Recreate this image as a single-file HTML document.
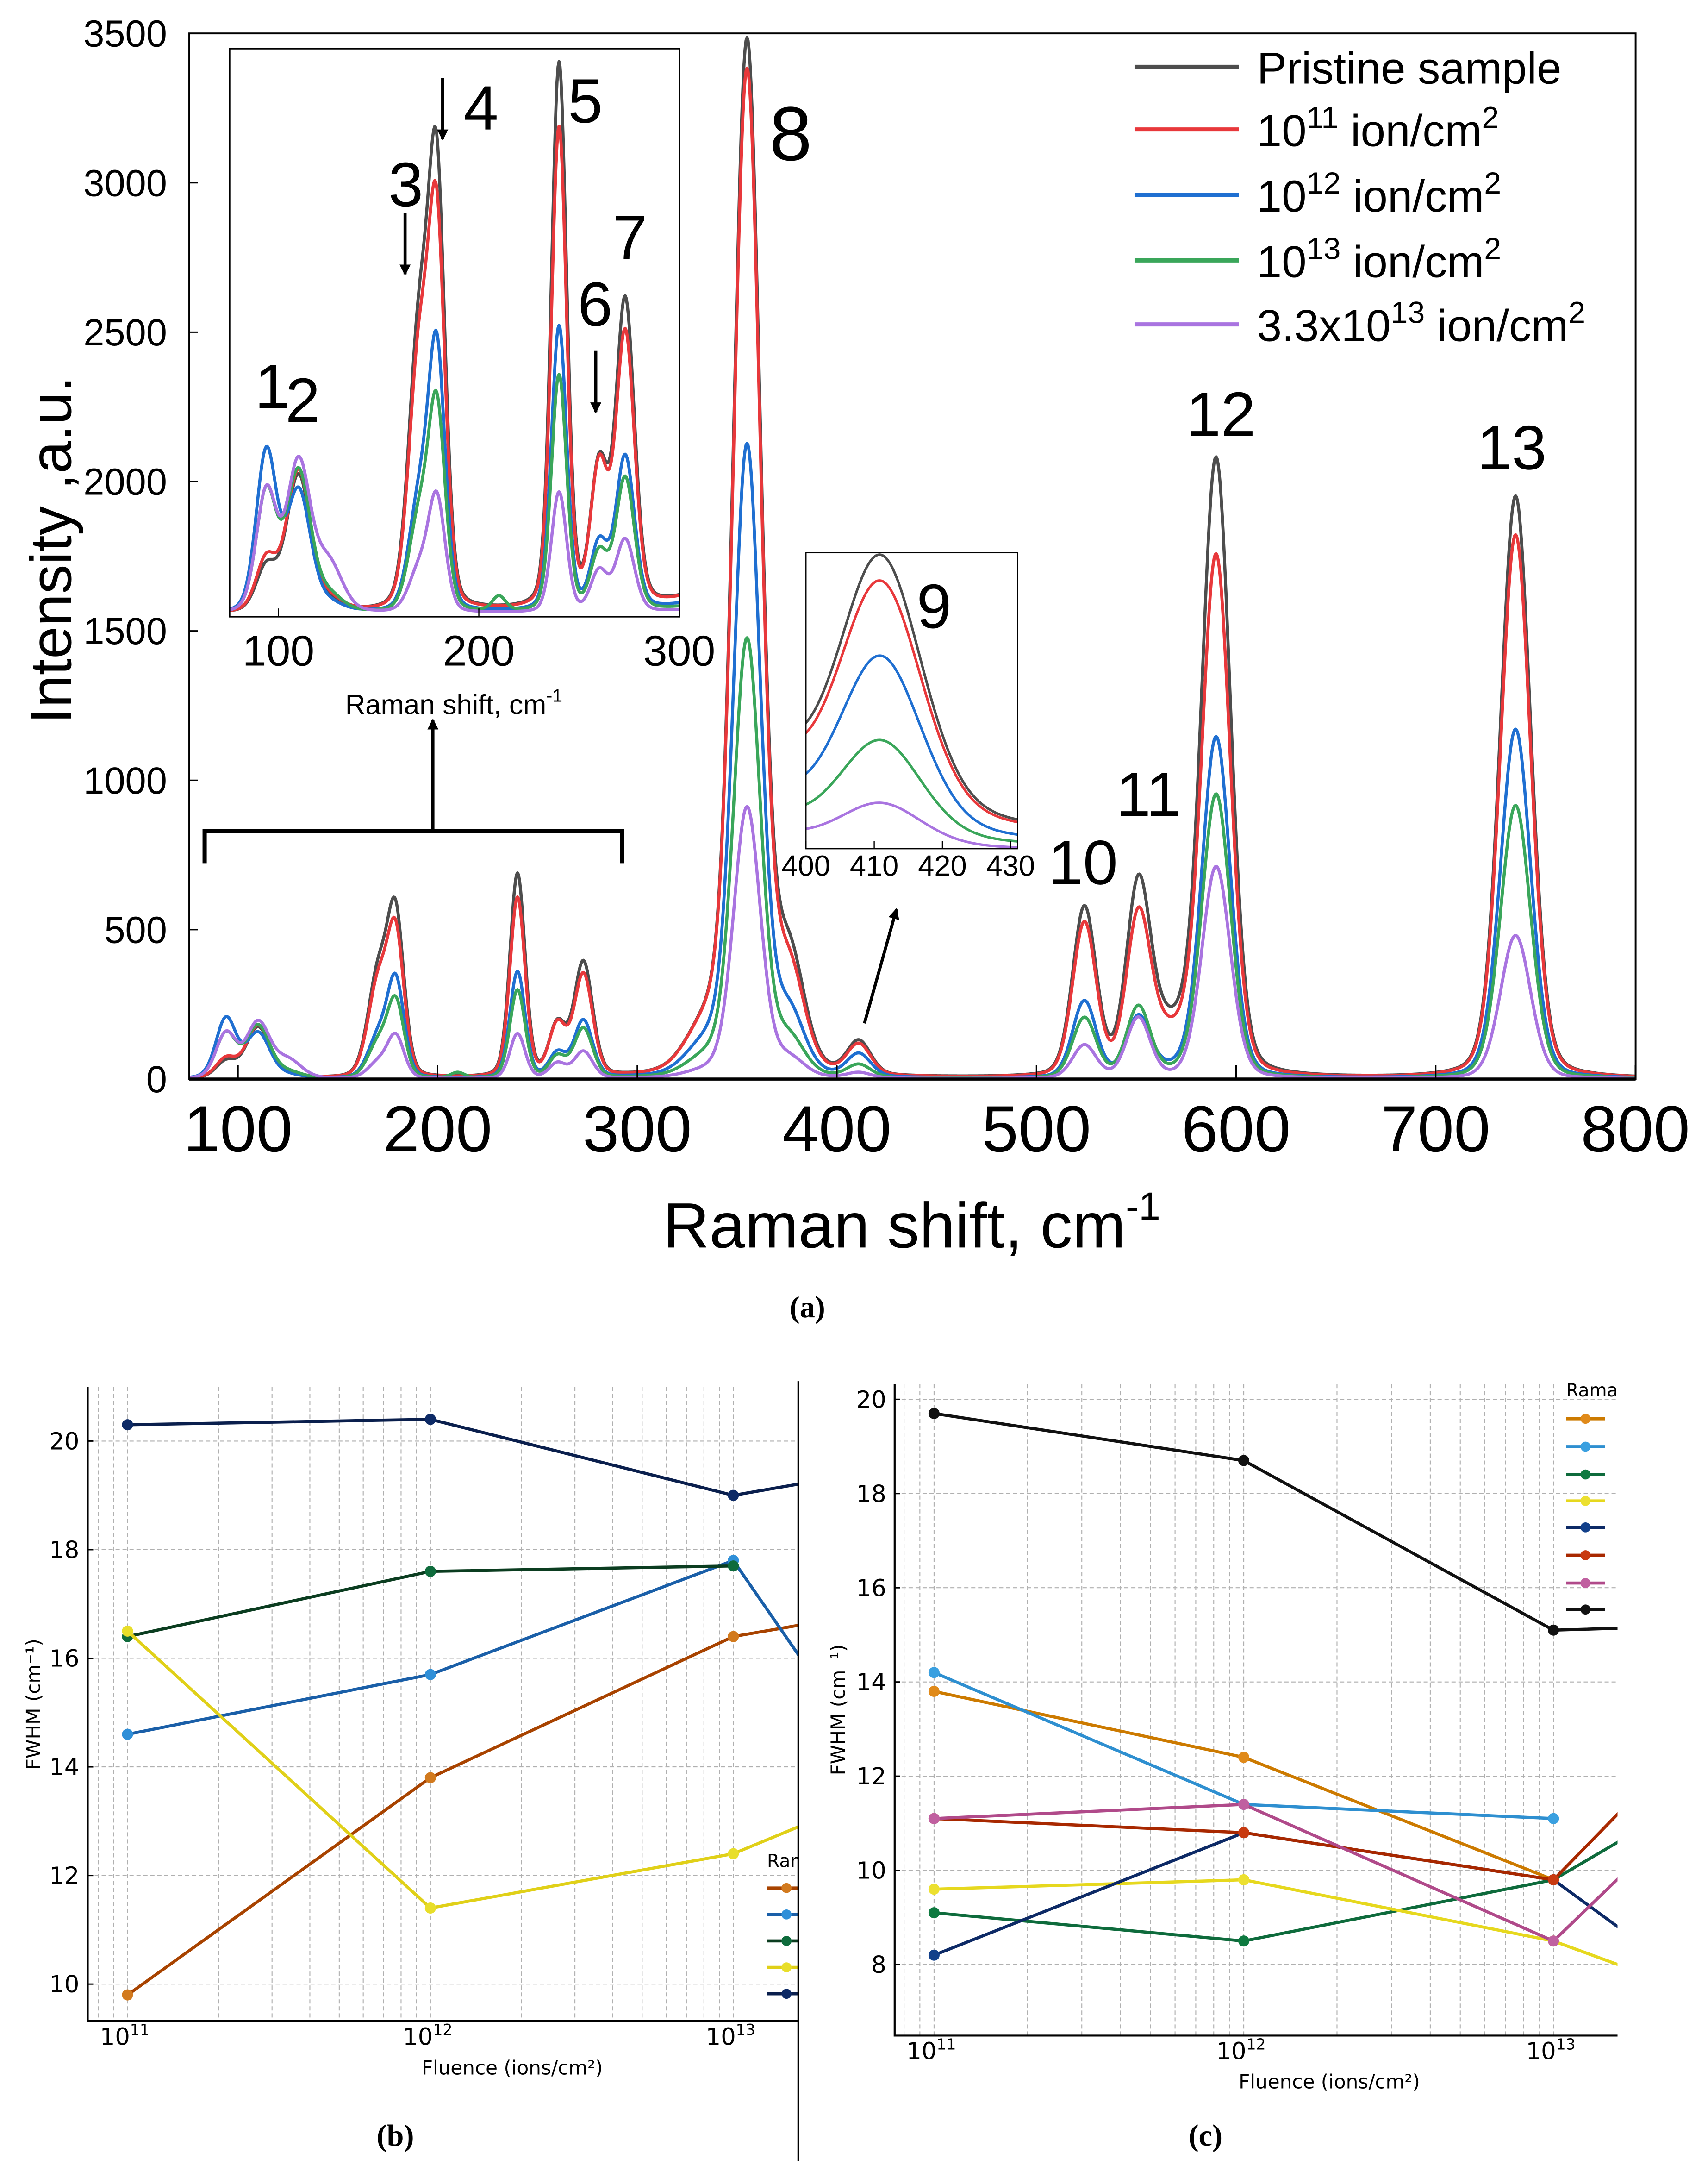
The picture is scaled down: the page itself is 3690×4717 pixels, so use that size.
<!DOCTYPE html>
<html><head><meta charset="utf-8"><title>Raman spectra and FWHM</title>
<style>
html,body{margin:0;padding:0;background:#fff;}
svg{display:block;}
text{font-family:"Liberation Sans",Arial,sans-serif;}
.dj{font-family:"DejaVu Sans","Liberation Sans",sans-serif;}
.sf{font-family:"Liberation Serif",serif;font-weight:bold;}
</style></head>
<body>
<svg id="fig" xmlns="http://www.w3.org/2000/svg" width="3690" height="4717" viewBox="0 0 1227 1568.6" preserveAspectRatio="none">
<rect x="0" y="0" width="1227" height="1568.6" fill="#fff"/>
<defs>
<clipPath id="clipMain"><rect x="136" y="24" width="1039" height="751"/></clipPath>
<clipPath id="clipIn1"><rect x="165" y="35" width="323" height="408"/></clipPath>
<clipPath id="clipIn2"><rect x="579" y="397" width="152" height="212.6"/></clipPath>
<clipPath id="clipB"><rect x="63" y="990" width="510.5" height="461.6"/></clipPath>
<clipPath id="clipC"><rect x="642.7" y="990" width="519.3" height="472"/></clipPath>
<marker id="ah" markerWidth="8" markerHeight="8" refX="7" refY="4" orient="auto" markerUnits="userSpaceOnUse"><path d="M0,0 L8,4 L0,8 z" fill="#000"/></marker>
</defs>
<g id="mainCurves" clip-path="url(#clipMain)"></g>
<rect x="136" y="24" width="1039" height="751" fill="none" stroke="#000" stroke-width="1.3"/>
<line x1="136" y1="775" x2="1175" y2="775" stroke="#000" stroke-width="2.2"/>
<g id="mainTicks"></g>
<text x="40" y="395" transform="rotate(-90 40 395)" text-anchor="middle" dominant-baseline="middle" font-size="42">Intensity ,a.u.</text>
<text x="655" y="896" text-anchor="middle" font-size="46">Raman shift, cm<tspan font-size="28" dy="-20">-1</tspan></text>
<text x="580" y="946" text-anchor="middle" font-size="22" class="sf">(a)</text>

<rect x="165" y="35" width="323" height="408" fill="#fff" stroke="none"/>
<g id="in1Curves" clip-path="url(#clipIn1)"></g>
<rect x="165" y="35" width="323" height="408" fill="none" stroke="#000" stroke-width="1"/>
<g id="in1Ticks"></g>
<text x="326" y="513" text-anchor="middle" font-size="20">Raman shift, cm<tspan font-size="13" dy="-9">-1</tspan></text>

<rect x="579" y="397" width="152" height="212.6" fill="#fff" stroke="none"/>
<g id="in2Curves" clip-path="url(#clipIn2)"></g>
<rect x="579" y="397" width="152" height="212.6" fill="none" stroke="#000" stroke-width="0.8"/>
<g id="in2Ticks"></g>

<g font-size="45">
<text x="183" y="293">1</text>
<text x="205" y="303">2</text>
<text x="279" y="148">3</text>
<text x="333" y="93">4</text>
<text x="408" y="88">5</text>
<text x="415" y="234">6</text>
<text x="440" y="186">7</text>
<text x="568" y="115" text-anchor="middle" font-size="55">8</text>
<text x="671" y="451" text-anchor="middle">9</text>
<text x="778" y="635" text-anchor="middle">10</text>
<text x="825" y="586" text-anchor="middle">11</text>
<text x="877" y="313" text-anchor="middle">12</text>
<text x="1086" y="337" text-anchor="middle">13</text>
</g>
<g stroke="#000" stroke-width="2.2" fill="none">
<line x1="318" y1="56" x2="318" y2="100" marker-end="url(#ah)"/>
<line x1="291" y1="153" x2="291" y2="197" marker-end="url(#ah)"/>
<line x1="428" y1="252" x2="428" y2="296" marker-end="url(#ah)"/>
<polyline points="147,620 147,597 447,597 447,620" stroke-width="3"/>
<line x1="311" y1="597" x2="311" y2="517" marker-end="url(#ah)"/>
<line x1="621" y1="735" x2="644" y2="653" marker-end="url(#ah)"/>
</g>

<g id="legendMain" font-size="32">
<line x1="815" y1="48" x2="890" y2="48" stroke="#4d4d4d" stroke-width="3"/>
<text x="903" y="60">Pristine sample</text>
<line x1="815" y1="93" x2="890" y2="93" stroke="#e8383b" stroke-width="3"/>
<text x="903" y="105">10<tspan font-size="22" dy="-13">11</tspan><tspan dy="13"> ion/cm</tspan><tspan font-size="22" dy="-13">2</tspan></text>
<line x1="815" y1="140" x2="890" y2="140" stroke="#1f6fd1" stroke-width="3"/>
<text x="903" y="152">10<tspan font-size="22" dy="-13">12</tspan><tspan dy="13"> ion/cm</tspan><tspan font-size="22" dy="-13">2</tspan></text>
<line x1="815" y1="187" x2="890" y2="187" stroke="#3aa65a" stroke-width="3"/>
<text x="903" y="199">10<tspan font-size="22" dy="-13">13</tspan><tspan dy="13"> ion/cm</tspan><tspan font-size="22" dy="-13">2</tspan></text>
<line x1="815" y1="233" x2="890" y2="233" stroke="#a974e0" stroke-width="3"/>
<text x="903" y="245">3.3x10<tspan font-size="22" dy="-13">13</tspan><tspan dy="13"> ion/cm</tspan><tspan font-size="22" dy="-13">2</tspan></text>
</g>

<g id="panelB"></g>
<text x="25" y="1224" transform="rotate(-90 25 1224)" text-anchor="middle" dominant-baseline="middle" font-size="14" class="dj">FWHM (cm⁻¹)</text>
<text x="368" y="1490" text-anchor="middle" font-size="14" class="dj">Fluence (ions/cm²)</text>
<text x="284" y="1541" text-anchor="middle" font-size="22" class="sf">(b)</text>
<line x1="573.5" y1="992" x2="573.5" y2="1552" stroke="#000" stroke-width="1.3"/>

<g id="panelC"></g>
<text x="603" y="1228" transform="rotate(-90 603 1228)" text-anchor="middle" dominant-baseline="middle" font-size="14" class="dj">FWHM (cm⁻¹)</text>
<text x="955" y="1500" text-anchor="middle" font-size="14" class="dj">Fluence (ions/cm²)</text>
<text x="866" y="1541" text-anchor="middle" font-size="22" class="sf">(c)</text>
</svg>

<script>
const seriesNames = ["pristine", "1e11", "1e12", "1e13", "3.3e13"];
const peakCenters = [94, 110, 125, 170, 179, 210, 240, 260, 273, 335, 355, 376, 411, 524, 551, 565, 590, 740];
const peakWidths  = [6, 7, 8, 6, 5, 4, 4.5, 5, 5.5, 12, 8, 9, 7, 7, 7, 15, 8.5, 9];
const ampPristine = [55, 170, 10, 330, 520, 0, 680, 170, 380, 150, 3440, 380, 110, 560, 575, 150, 2050, 1950];
const ampRed      = [65, 175, 15, 300, 460, 0, 600, 170, 340, 150, 3340, 330, 100, 510, 480, 130, 1730, 1820];
const ampBlue     = [200, 150, 10, 130, 320, 0, 355, 80, 190, 100, 2100, 200, 75, 255, 190, 20, 1140, 1170];
const ampGreen    = [150, 175, 20, 110, 250, 18, 295, 70, 165, 60, 1460, 120, 42, 200, 230, 10, 950, 915];
const ampPurple   = [150, 185, 60, 50, 140, 0, 150, 50, 90, 20, 905, 60, 18, 110, 200, 0, 710, 480];
const yTicksMain  = [0, 500, 1000, 1500, 2000, 2500, 3000, 3500];
const xTicksMain  = [100, 200, 300, 400, 500, 600, 700, 800];
const xTicksIn1   = [100, 200, 300];
const xTicksIn2   = [400, 410, 420, 430];

const fluenceLog = [11, 12, 13, 13.52];
const bOrange = [9.8, 13.8, 16.4, 16.9];
const bBlue   = [14.6, 15.7, 17.8, 13.6];
const bGreen  = [16.4, 17.6, 17.7];
const bYellow = [16.5, 11.4, 12.4, 13.6];
const bNavy   = [20.3, 20.4, 19.0, 19.5];
const cBlack     = [19.7, 18.7, 15.1, 15.2];
const cOrange    = [13.8, 12.4, 9.8];
const cLightBlue = [14.2, 11.4, 11.1];
const cPink      = [11.1, 11.4, 8.5, 11.8];
const cRed       = [11.1, 10.8, 9.8, 13.3];
const cYellow    = [9.6, 9.8, 8.5, 7.25];
const cGreen     = [9.1, 8.5, 9.8, 11.8];
const cNavy      = [8.2, 10.8, 9.8, 7.3];
const bTicksY = [10, 12, 14, 16, 18, 20];
const cTicksY = [8, 10, 12, 14, 16, 18, 20];
const decadeTicks = [11, 12, 13];

const NS = "http://www.w3.org/2000/svg";
function mk(tag, attrs, parent) {
  const e = document.createElementNS(NS, tag);
  for (const k in attrs) e.setAttribute(k, attrs[k]);
  if (parent) parent.appendChild(e);
  return e;
}
const ampSets = [ampPristine, ampRed, ampBlue, ampGreen, ampPurple];
const colors = ["#4d4d4d", "#e8383b", "#1f6fd1", "#3aa65a", "#a974e0"];

function intensity(amps, v) {
  let s = 0;
  for (let i = 0; i < peakCenters.length; i++) {
    const d = (v - peakCenters[i]) / peakWidths[i];
    s += amps[i] * (0.8 * Math.exp(-0.6931 * d * d) + 0.2 / (1 + d * d));
  }
  return s;
}
const xMain = v => 171 + (v - 100) * 1.434;
const yMain = I => 775 - I * (751 / 3500);
const xIn1 = v => 200 + (v - 100) * 1.44;
const yIn1 = I => 441 - I * 0.575;
const xIn2 = v => 579 + (v - 400) * 4.9;
const yIn2 = I => 614.6 - I * 1.64;

function curve(g, amps, color, v0, v1, step, fx, fy, sw, name) {
  let d = "";
  for (let v = v0; v <= v1 + 1e-9; v += step) {
    d += (d ? "L" : "M") + fx(v).toFixed(2) + "," + fy(intensity(amps, v)).toFixed(2);
  }
  const p = mk("path", {d: d, fill: "none", stroke: color, "stroke-width": sw, "stroke-linejoin": "round"}, g);
  
  
}
const gMain = document.getElementById("mainCurves");
const gIn1 = document.getElementById("in1Curves");
const gIn2 = document.getElementById("in2Curves");
for (let s = 0; s < ampSets.length; s++) {
  curve(gMain, ampSets[s], colors[s], 75, 800, 0.5, xMain, yMain, 2.2, "spectrum-" + seriesNames[s]);
  curve(gIn1, ampSets[s], colors[s], 75, 300, 0.5, xIn1, yIn1, 2.2, "inset-spectrum-" + seriesNames[s]);
  curve(gIn2, ampSets[s], colors[s], 399, 432, 0.25, xIn2, yIn2, 1.8, "inset9-spectrum-" + seriesNames[s]);
}
const gT = document.getElementById("mainTicks");
yTicksMain.forEach(t => {
  const tx = mk("text", {x: 120, y: yMain(t) + 9.5, "text-anchor": "end", "font-size": 27}, gT);
  tx.textContent = t;
  
  
  const tl = mk("line", {x1: 136, x2: 142, y1: yMain(t), y2: yMain(t), stroke: "#000", "stroke-width": 1}, gT);
  
  
});
xTicksMain.forEach(t => {
  const tx = mk("text", {x: xMain(t), y: 827, "text-anchor": "middle", "font-size": 47}, gT);
  tx.textContent = t;
  
  
  const tl = mk("line", {x1: xMain(t), x2: xMain(t), y1: 775, y2: 765, stroke: "#000", "stroke-width": 1}, gT);
  
  
});
const g1 = document.getElementById("in1Ticks");
xTicksIn1.forEach(t => {
  const tx = mk("text", {x: xIn1(t), y: 478, "text-anchor": "middle", "font-size": 31}, g1);
  tx.textContent = t;
  
  
  const tl = mk("line", {x1: xIn1(t), x2: xIn1(t), y1: 443, y2: 437, stroke: "#000", "stroke-width": 0.8}, g1);
  
  
});
const g2 = document.getElementById("in2Ticks");
xTicksIn2.forEach(t => {
  const tx = mk("text", {x: xIn2(t), y: 629, "text-anchor": "middle", "font-size": 21}, g2);
  tx.textContent = t;
  
  
  const tl = mk("line", {x1: xIn2(t), x2: xIn2(t), y1: 609.6, y2: 604, stroke: "#000", "stroke-width": 0.8}, g2);
  
  
});

function panel(gid, clipId, box, fx, fy, yTicks, series, legend) {
  const g = document.getElementById(gid);
  const grid = mk("g", {stroke: "#b0b0b0", "stroke-width": 0.7, "stroke-dasharray": "3,2"}, g);
  
  
  for (let dec = 10; dec <= 13; dec++) {
    for (let k = 1; k <= 9; k++) {
      const lx = fx(dec + Math.log10(k));
      if (lx < box.x0 + 0.5 || lx > box.x1 - 0.5) continue;
      const gl = mk("line", {x1: lx, x2: lx, y1: box.y0, y2: box.y1}, grid);
      
      
    }
  }
  yTicks.forEach(t => {
    const gl = mk("line", {x1: box.x0, x2: box.x1, y1: fy(t), y2: fy(t)}, grid);
    
    
    const tk = mk("line", {x1: box.x0, x2: box.x0 + 4, y1: fy(t), y2: fy(t), stroke: "#000", "stroke-width": 1}, g);
    
    
    const tx = mk("text", {x: box.x0 - 6, y: fy(t) + 6, "text-anchor": "end", "font-size": 17, class: "dj"}, g);
    tx.textContent = t;
    
    
  });
  decadeTicks.forEach(d => {
    const tx = mk("text", {x: fx(d) - 2, y: box.y1 + 17, "text-anchor": "middle", "font-size": 17, class: "dj"}, g);
    tx.textContent = "10";
    const sp = mk("tspan", {"font-size": 11, dy: -7}, tx);
    sp.textContent = String(d);
    
    
  });
  const lines = mk("g", {"clip-path": "url(#" + clipId + ")"}, g);
  
  
  series.forEach(s => {
    const pts = s.vals.map((v, i) => fx(fluenceLog[i]).toFixed(2) + "," + fy(v).toFixed(2)).join(" ");
    const pl = mk("polyline", {points: pts, fill: "none", stroke: s.line, "stroke-width": 2.2, "stroke-linejoin": "round"}, lines);
    
    
    s.vals.forEach((v, i) => {
      const c = mk("circle", {cx: fx(fluenceLog[i]), cy: fy(v), r: 4, fill: s.marker}, lines);
      
      
    });
  });
  const ax = mk("polyline", {points: box.x0 + "," + box.y0 + " " + box.x0 + "," + box.y1 + " " + box.x1 + "," + box.y1, fill: "none", stroke: "#000", "stroke-width": 1.4}, g);
  
  
  const lg = mk("g", {"clip-path": "url(#" + clipId + ")"}, g);
  
  
  const lt = mk("text", {x: legend.x, y: legend.ty, "font-size": 13, class: "dj"}, lg);
  lt.textContent = "Raman shift";
  
  
  legend.ys.forEach((y, i) => {
    const s = series[legend.order[i]];
    const ll = mk("line", {x1: legend.x, x2: legend.x + 28, y1: y, y2: y, stroke: s.line, "stroke-width": 2.2}, lg);
    
    
    const lc = mk("circle", {cx: legend.x + 14, cy: y, r: 3.6, fill: s.marker}, lg);
    
    
  });
}
const bx = v => 91.6 + (v - 11) * 217.6;
const byy = v => 1425 - (v - 10) * 39;
panel("panelB", "clipB", {x0: 63, x1: 573.5, y0: 996, y1: 1451.6}, bx, byy, bTicksY, [
  {name: "orange", vals: bOrange, line: "#a84300", marker: "#d27a1e"},
  {name: "blue", vals: bBlue, line: "#1a5fa8", marker: "#2f8fd8"},
  {name: "green", vals: bGreen, line: "#0b3d20", marker: "#0e6b3c"},
  {name: "yellow", vals: bYellow, line: "#e0d018", marker: "#e8de2a"},
  {name: "navy", vals: bNavy, line: "#0a1f4d", marker: "#0d2a66"}
], {x: 551, ty: 1341, ys: [1356, 1375, 1394, 1413, 1432], order: [0, 1, 2, 3, 4]});
const cx = v => 671 + (v - 11) * 222.5;
const cy = v => 1411 - (v - 8) * 33.83;
panel("panelC", "clipC", {x0: 642.7, x1: 1162, y0: 994, y1: 1462}, cx, cy, cTicksY, [
  {name: "orange", vals: cOrange, line: "#cc7a00", marker: "#e08a1a"},
  {name: "lightblue", vals: cLightBlue, line: "#2e8fd0", marker: "#3aa0e0"},
  {name: "green", vals: cGreen, line: "#0e6b3c", marker: "#0e7a40"},
  {name: "yellow", vals: cYellow, line: "#e6d81e", marker: "#ece030"},
  {name: "navy", vals: cNavy, line: "#0d2a66", marker: "#12408a"},
  {name: "red", vals: cRed, line: "#a82800", marker: "#c83a10"},
  {name: "pink", vals: cPink, line: "#b04a8a", marker: "#c060a0"},
  {name: "black", vals: cBlack, line: "#111", marker: "#111"}
], {x: 1125, ty: 1003, ys: [1019, 1039, 1059, 1078, 1097, 1117, 1137, 1156], order: [0, 1, 2, 3, 4, 5, 6, 7]});
</script>
</body></html>
